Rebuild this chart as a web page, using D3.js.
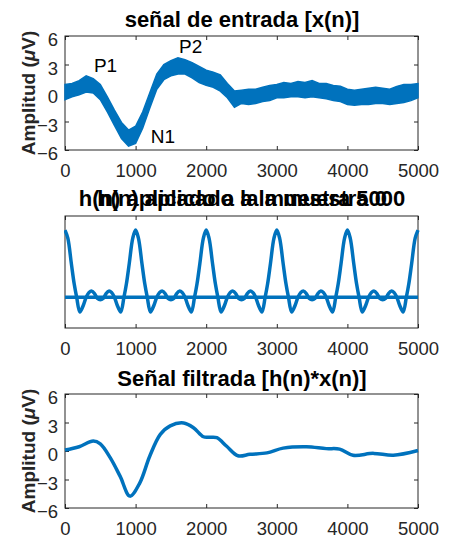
<!DOCTYPE html>
<html>
<head>
<meta charset="utf-8">
<script src="https://cdn.jsdelivr.net/npm/d3@7"></script>
<style>
body { margin: 0; background: #fff; }
svg { display: block; font-family: "Liberation Sans", Arial, Helvetica, sans-serif; }
</style>
</head>
<body>
<svg width="451" height="538"></svg>
<script>
// DATA
var xTicks = [0, 1000, 2000, 3000, 4000, 5000];
var ampTicks = [-6, -3, 0, 3, 6];

// input signal x(n): noisy band, read as upper / lower edge every 100 samples
var rawN = d3.range(0, 5001, 100);
var rawUpper = [0.9, 1.0, 1.3, 1.8, 1.5, 0.9, -0.4, -1.8, -3.1, -3.9,
  -3.5, -2.0, 0.0, 2.0, 3.0, 3.4, 3.7, 3.5, 3.2, 2.8,
  2.4, 2.2, 1.9, 1.0, 0.2, 0.3, 0.4, 0.4, 0.6, 0.8,
  0.9, 1.1, 1.0, 1.2, 1.1, 1.3, 1.0, 1.0, 0.8, 0.7,
  0.4, 0.3, 0.4, 0.5, 0.6, 0.5, 0.4, 0.7, 0.9, 0.9, 1.0];
var rawLower = [-0.7, -0.4, -0.2, 0.1, 0.0, -0.7, -2.0, -3.4, -4.8, -5.6,
  -5.3, -3.7, -1.6, 0.4, 1.4, 1.8, 2.0, 2.0, 1.6, 1.1,
  0.8, 0.6, 0.2, -0.5, -1.5, -1.1, -1.2, -1.1, -0.9, -0.8,
  -0.5, -0.5, -0.4, -0.4, -0.5, -0.4, -0.5, -0.6, -0.8, -0.9,
  -1.2, -1.3, -1.2, -1.2, -1.1, -1.1, -1.2, -1.1, -1.0, -0.8, -0.5];

// component labels
var peakNames = ["P1", "P2", "N1"];
var peakN = [410, 1615, 1215];
var peakAmp = [2.2, 4.2, -5.3];

// h(n): one period of the kernel (peak at 0 and 1000), replicated every 1000 samples
var kernT = [0, 40, 90, 130, 165, 210, 260, 300, 340, 380, 420, 460, 500,
  540, 580, 620, 660, 700, 740, 790, 835, 870, 910, 960, 1000];
var kernY = [1.0, 0.88, 0.5, 0.2, 0.0, -0.22, -0.12, 0.0, 0.07, 0.09, 0.05, -0.02, -0.04,
  -0.02, 0.05, 0.09, 0.07, 0.0, -0.12, -0.22, 0.0, 0.2, 0.5, 0.88, 1.0];
var kernStarts = [0, 1000, 2000, 3000, 4000];

// filtered signal h(n)*x(n)
var filtN = [0, 200, 400, 500, 640, 780, 920, 1060, 1200, 1350, 1490, 1680, 1820, 1960,
  2050, 2150, 2290, 2450, 2620, 2860, 3090, 3420, 3700, 3890, 4080, 4370, 4650, 5000];
var filtY = [0.1, 0.45, 1.05, 0.75, -0.7, -2.65, -4.75, -3.35, -0.55, 1.75, 2.65, 2.95, 2.45, 1.5,
  1.45, 1.4, 0.5, -0.5, -0.35, -0.2, 0.3, 0.45, 0.25, 0.2, -0.45, -0.25, -0.45, 0.05];

// STYLE
var blue = "#0072bd";
var ink = "#262626";
var svg = d3.select("svg");
var x = d3.scaleLinear().domain([0, 5000]).range([65, 418]);

function panel(id, top, bottom, yDomain, yTicks) {
	var y = d3.scaleLinear().domain(yDomain).range([bottom, top]);
	var g = svg.append("g");

	g.append("clipPath").attr("id", id)
	.append("rect")
	.attr("x", 64).attr("y", top - 2)
	.attr("width", 356).attr("height", bottom - top + 4);

	var fmt = d3.format("d");
	var bx = g.append("g").attr("transform", "translate(0," + bottom + ")")
	.call(d3.axisBottom(x).tickValues(xTicks).tickSize(-4).tickFormat(fmt));
	bx.selectAll("text").attr("y", 13.5).attr("dy", "0.71em");
	g.append("g").attr("transform", "translate(0," + top + ")")
	.call(d3.axisTop(x).tickValues(xTicks).tickSize(-4).tickFormat(""));

	if (yTicks) {
		var ly = g.append("g").attr("transform", "translate(65,0)")
		.call(d3.axisLeft(y).tickValues(yTicks).tickSize(-4).tickFormat(fmt));
		ly.selectAll("text").attr("x", -7).attr("y", 4);
		g.append("g").attr("transform", "translate(418,0)")
		.call(d3.axisRight(y).tickValues(yTicks).tickSize(-4).tickFormat(""));
	}

	g.selectAll(".domain").remove();
	g.selectAll(".tick line").attr("stroke", ink);
	g.selectAll(".tick text").attr("fill", ink);
	g.selectAll("g").attr("font-family", null).attr("font-size", 18.5);

	g.append("rect")
	.attr("x", 65).attr("y", top)
	.attr("width", 353).attr("height", bottom - top)
	.attr("fill", "none").attr("stroke", ink).attr("stroke-width", 1);

	var data = g.append("g").attr("clip-path", "url(#" + id + ")");
	return {g: g, y: y, data: data};
}

function yLabel(p, top, bottom) {
	var t = p.g.append("text")
	.attr("transform", "translate(28," + (top + bottom) / 2 + ") rotate(-90)")
	.attr("text-anchor", "middle")
	.attr("dy", "0.35em")
	.attr("font-size", 19)
	.attr("font-weight", "bold")
	.attr("fill", ink);
	t.append("tspan").text("Amplitud (");
	t.append("tspan").attr("font-style", "italic").text("\u03bc");
	t.append("tspan").text("V)");
}

function title(text, yPos) {
	return svg.append("text")
	.attr("x", 242).attr("y", yPos)
	.attr("text-anchor", "middle")
	.attr("font-size", 22)
	.attr("font-weight", "bold")
	.attr("fill", "#000")
	.text(text);
}

// PANEL 1 : input
var p1 = panel("c1", 36, 150, [-6, 6], ampTicks);
var band = rawN.map(function(n, i) { return {n: n, hi: rawUpper[i], lo: rawLower[i]}; });
p1.data.append("path")
.datum(band)
.attr("fill", blue)
.attr("stroke", blue)
.attr("stroke-width", 1.5)
.attr("d", d3.area().x(function(d) { return x(d.n); })
	.y0(function(d) { return p1.y(d.lo); })
	.y1(function(d) { return p1.y(d.hi); }));
p1.g.selectAll(".peak")
.data(peakNames)
.enter().append("text")
.attr("x", function(d, i) { return x(peakN[i]); })
.attr("y", function(d, i) { return p1.y(peakAmp[i]); })
.attr("font-size", 19)
.attr("fill", "#000")
.text(function(d) { return d; });
yLabel(p1, 36, 150);
title("se\u00f1al de entrada [x(n)]", 27);

// PANEL 2 : kernel
var p2 = panel("c2", 216, 328, [-0.46, 1.21], null);
var kern = [];
kernStarts.forEach(function(s, k) {
	kernT.forEach(function(t, i) {
		if (k > 0 && i === 0) return;
		kern.push({n: s + t, v: kernY[i]});
	});
});
var kLine = d3.line().x(function(d) { return x(d.n); }).y(function(d) { return p2.y(d.v); })
.curve(d3.curveCatmullRom);
p2.data.append("path").datum(kern)
.attr("fill", "none").attr("stroke", blue).attr("stroke-width", 3.5)
.attr("d", kLine);
p2.data.append("path").datum([{n: 0, v: 0}, {n: 5000, v: 0}])
.attr("fill", "none").attr("stroke", blue).attr("stroke-width", 3.5)
.attr("d", kLine);
// two titles drawn on top of each other, as in the original figure
title("h(n) aplicado a la muestra 5000", 206);
title("h(n) aplicado a la muestra 0", 206);

// PANEL 3 : filtered
var p3 = panel("c3", 394, 508, [-6, 6], ampTicks);
var filt = filtN.map(function(n, i) { return {n: n, v: filtY[i]}; });
p3.data.append("path").datum(filt)
.attr("fill", "none").attr("stroke", blue).attr("stroke-width", 3.5)
.attr("d", d3.line().x(function(d) { return x(d.n); }).y(function(d) { return p3.y(d.v); })
	.curve(d3.curveCatmullRom));
yLabel(p3, 394, 508);
title("Se\u00f1al filtrada [h(n)*x(n)]", 386);
</script>
</body>
</html>
